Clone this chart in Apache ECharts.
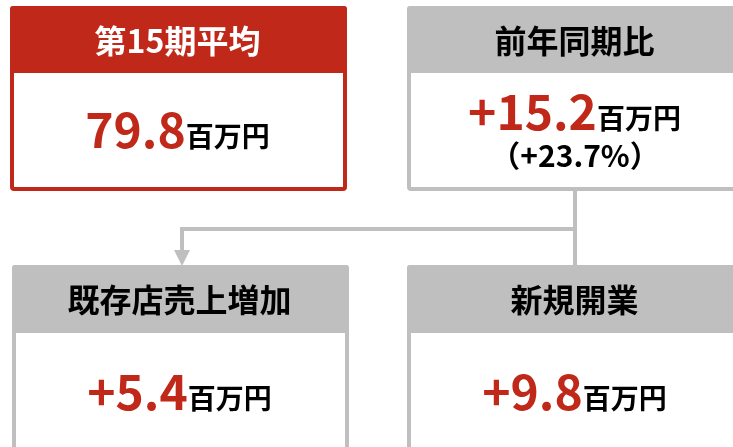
<!DOCTYPE html>
<html>
<head>
<meta charset="utf-8">
<script src="https://cdn.jsdelivr.net/npm/echarts@6/dist/echarts.min.js"></script>
<style>html,body{margin:0;padding:0;background:#fff;}#c{width:733px;height:447px;}</style>
</head>
<body>
<div id="c"></div>
<script>
// ---- data ----
const titles = ['第15期平均', '前年同期比', '既存店売上増加', '新規開業'];
const values = [79.8, 15.2, 5.4, 9.8];
const signed = [false, true, true, true];
const unit = '百万円';
const growthPct = 23.7;

// ---- styling ----
const RED = '#c0291a';
const GRAY = '#bfbfbf';
const FONT = '"Noto Sans CJK JP", "Noto Sans", sans-serif';

const boxes = [
  { x: 10, y: 6, w: 337, h: 185, hh: 67, stroke: RED, head: RED, headText: '#ffffff', vy: 130 },
  { x: 407, y: 6, w: 337, h: 185, hh: 67, stroke: GRAY, head: GRAY, headText: '#000000', vy: 112 },
  { x: 12, y: 265, w: 337, h: 200, hh: 68, stroke: GRAY, head: GRAY, headText: '#000000', vy: 392 },
  { x: 407, y: 265, w: 337, h: 200, hh: 68, stroke: GRAY, head: GRAY, headText: '#000000', vy: 392 }
];

function fmt(i) {
  return (signed[i] ? '+' : '') + values[i].toFixed(1);
}

const graphic = [];
boxes.forEach((b, i) => {
  graphic.push({
    type: 'rect',
    shape: { x: b.x + 2, y: b.y + 2, width: b.w - 4, height: b.h - 4, r: 2 },
    style: { fill: '#ffffff', stroke: b.stroke, lineWidth: 4 }
  });
  graphic.push({
    type: 'rect',
    shape: { x: b.x, y: b.y, width: b.w, height: b.hh, r: [3, 3, 0, 0] },
    style: { fill: b.head }
  });
  graphic.push({
    type: 'text',
    x: b.x + b.w / 2 - 1,
    y: b.y + b.hh / 2 + 1,
    style: {
      text: titles[i],
      fill: b.headText,
      font: 'bold 32px ' + FONT,
      align: 'center',
      verticalAlign: 'middle'
    }
  });
  graphic.push({
    type: 'text',
    x: b.x + b.w / 2 - 1,
    y: b.vy,
    style: {
      text: '{v|' + fmt(i) + '}{u|' + unit + '}',
      align: 'center',
      verticalAlign: 'middle',
      rich: {
        v: { fontFamily: FONT, fontWeight: 'bold', fontSize: 48, fill: RED, lineHeight: 48, verticalAlign: 'bottom' },
        u: { fontFamily: FONT, fontWeight: 'bold', fontSize: 28, fill: '#000', lineHeight: 28, verticalAlign: 'bottom', padding: [0, 0, 4, 0] }
      }
    }
  });
});

// growth percentage in box 2
graphic.push({
  type: 'text',
  x: 575,
  y: 156,
  style: {
    text: '（+' + growthPct.toFixed(1) + '%）',
    fill: '#000',
    font: 'bold 30px ' + FONT,
    align: 'center',
    verticalAlign: 'middle'
  }
});

// connectors
const cx = 575;
const ax = 182;
graphic.push({
  type: 'polyline',
  shape: { points: [[cx, 189], [cx, 267]] },
  style: { stroke: GRAY, lineWidth: 4, fill: null }
});
graphic.push({
  type: 'polyline',
  shape: { points: [[cx, 229], [ax, 229], [ax, 252]] },
  style: { stroke: GRAY, lineWidth: 4, fill: null, lineJoin: 'miter' }
});
graphic.push({
  type: 'polygon',
  shape: { points: [[ax - 8, 250], [ax + 8, 250], [ax, 266]] },
  style: { fill: GRAY }
});

const chart = echarts.init(document.getElementById('c'), null, { renderer: 'canvas' });
chart.setOption({ animation: false, graphic: graphic });
</script>
</body>
</html>
